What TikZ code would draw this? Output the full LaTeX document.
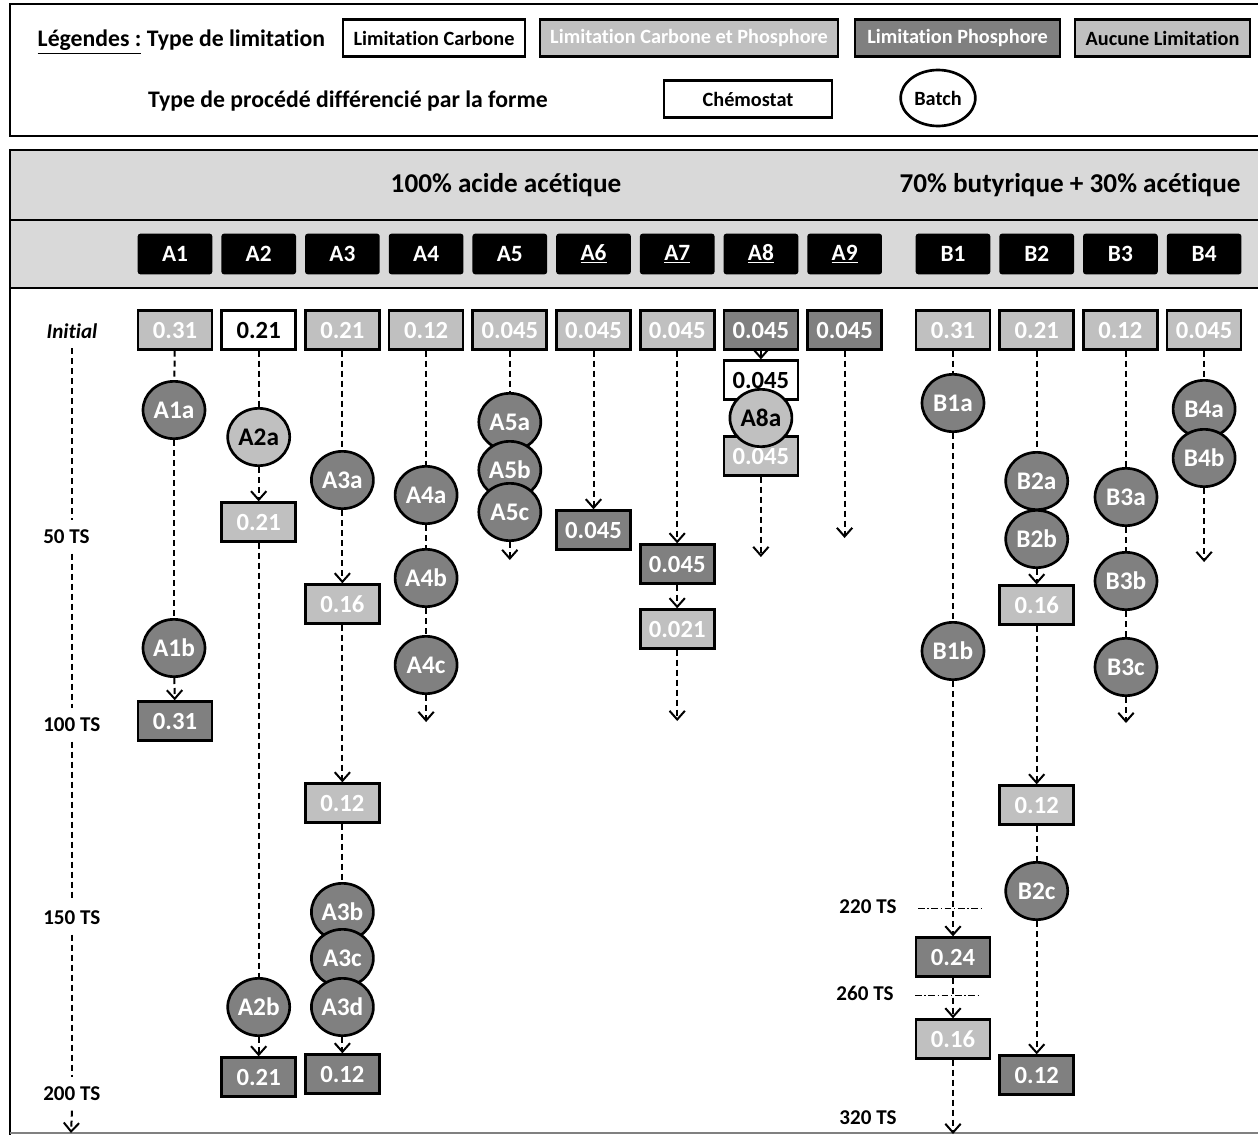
\documentclass[tikz,border=0pt]{standalone}
\usepackage{fontspec}
\setmainfont{Carlito}[Ligatures=NoCommon]
\usetikzlibrary{shapes.geometric}
\usetikzlibrary{positioning}
\usetikzlibrary{arrows.meta}

\begin{document}
\begin{tikzpicture}[x=0.75pt,y=-0.75pt,>={Straight Barb[length=6.5pt,width=11.5pt,line width=1.5pt]},
	node distance=62.78pt,font=\bfseries,
	chemo node/.style={rectangle,draw,line width=2pt,minimum width=55.5pt,minimum height=29pt,inner sep=0pt,font=\bfseries\fontsize{18.5}{20}\selectfont},
	batch node/.style={ellipse,draw,line width=2pt,minimum width=46.5pt,minimum height=43pt,inner sep=0pt,font=\bfseries\fontsize{19}{21}\selectfont},
	leg node/.style={rectangle,draw,line width=2pt,minimum height=28pt,inner sep=1pt,font=\bfseries\fontsize{15.2}{17}\selectfont},
	col node/.style={rectangle,rounded corners=2pt,fill=black,text=white,minimum width=56pt,minimum height=30.5pt,inner sep=0pt,font=\bfseries\fontsize{17.5}{19}\selectfont},
	time node/.style={inner xsep=0pt,inner ysep=7pt,font=\bfseries\fontsize{15.8}{17}\selectfont},
	head node/.style={font=\bfseries\fontsize{20.4}{22}\selectfont},
	cfill/.style={fill=white,text=black},
	cpfill/.style={fill=lgray,text=white},
	pfill/.style={fill=dgray,text=white},
	nfill/.style={fill=lgray,text=black},
	flow/.style={draw,line width=1.5pt,dash pattern=on 4.5pt off 3pt},
	tmark/.style={line width=0.6pt,dash pattern=on 5pt off 2pt on 1pt off 2pt}]
	
	\definecolor{lgray}{RGB}{192,192,192}
	\definecolor{dgray}{RGB}{128,128,128}
	\definecolor{band}{RGB}{217,217,217}
	
	\useasboundingbox (0,0) rectangle (1258,1135);
	
	% frames
	\draw[line width=2.2pt] (10,4) rectangle (1275,136);
	\fill[band] (10,150) rectangle (1275,288);
	\draw[line width=2.2pt] (1275,150) -- (10,150) -- (10,1140);
	\draw[line width=2.2pt] (10,220) -- (1275,220);
	\draw[line width=2.2pt] (10,288) -- (1275,288);
	\draw[gray,line width=0.8pt] (10,1133) -- (1275,1133);
	
	% legend
	\node[anchor=west,font=\bfseries\fontsize{17.8}{19}\selectfont] (leg) at (33,42) {\underline{Légendes :} Type de limitation};
	\node[leg node,cfill,minimum width=136.5pt] (lc) at (434,38) {Limitation Carbone};
	\node[leg node,cpfill,minimum width=223.5pt] (lcp) at (689,38) {Limitation Carbone et Phosphore};
	\node[leg node,pfill,minimum width=153.75pt] (lp) at (957.5,38) {Limitation Phosphore};
	\node[leg node,nfill,minimum width=131.25pt] (ln) at (1162.5,38) {Aucune Limitation};
	\node[font=\bfseries\fontsize{17.8}{19}\selectfont] (proc) at (348,101) {Type de procédé différencié par la forme};
	\node[leg node,cfill,minimum width=126pt] (lchemo) at (748,99) {Chémostat};
	\node[leg node,ellipse,cfill,minimum width=56pt,minimum height=42pt,inner sep=0pt] (lbatch) at (938,98) {Batch};
	
	% headers
	\node[head node] (acet) at (506,185) {100\% acide acétique};
	\node[head node] (buty) at (1070,185) {70\% butyrique + 30\% acétique};
	
	\node[col node] (A1) at (175,254) {A1};
	\node[col node] (A2) [right of=A1] {A2};
	\node[col node] (A3) [right of=A2] {A3};
	\node[col node] (A4) [right of=A3] {A4};
	\node[col node] (A5) [right of=A4] {A5};
	\node[col node] (A6) [right of=A5] {\underline{A6}};
	\node[col node] (A7) [right of=A6] {\underline{A7}};
	\node[col node] (A8) [right of=A7] {\underline{A8}};
	\node[col node] (A9) [right of=A8] {\underline{A9}};
	\node[col node] (B1) at (953,254) {B1};
	\node[col node] (B2) [right of=B1] {B2};
	\node[col node] (B3) [right of=B2] {B3};
	\node[col node] (B4) [right of=B3] {B4};
	
	% time axis
	\node[time node,font=\bfseries\itshape\fontsize{15.8}{17}\selectfont] (ti) at (72,331) {Initial};
	\node[time node,anchor=west] (t50) at (43,537) {50 TS};
	\node[time node,anchor=west] (t100) at (43,725) {100 TS};
	\node[time node,anchor=west] (t150) at (43,918) {150 TS};
	\node[time node,anchor=west] (t200) at (43,1094) {200 TS};
	\coordinate (tend) at (71,1133);
	\node[time node] (t220) at (868,907) {220 TS};
	\node[time node] (t260) at (865,993) {260 TS};
	\node[time node] (t320) at (868,1118) {320 TS};
	\coordinate (m220a) at (918,908);
	\coordinate (m220b) at (983,908);
	\coordinate (m260a) at (915,995);
	\coordinate (m260b) at (980,995);
	
	% A1
	\node[chemo node,cpfill] (a1i) at (175,330) {0.31};
	\node[batch node,pfill] (a1a) at (174,410) {A1a};
	\node[batch node,pfill] (a1b) at (174,648) {A1b};
	\node[chemo node,pfill] (a1f) at (175,721) {0.31};
	% A2
	\node[chemo node,cfill] (a2i) at (258.7,330) {0.21};
	\node[batch node,nfill] (a2a) at (258.7,437) {A2a};
	\node[chemo node,cpfill] (a2v) at (258.7,522) {0.21};
	\node[batch node,pfill] (a2b) at (258.7,1007) {A2b};
	\node[chemo node,pfill] (a2f) at (258.7,1077) {0.21};
	% A3
	\node[chemo node,cpfill] (a3i) at (342.4,330) {0.21};
	\node[batch node,pfill] (a3a) at (342.4,480) {A3a};
	\node[chemo node,cpfill] (a3v) at (342.4,604) {0.16};
	\node[chemo node,cpfill] (a3w) at (342.4,803) {0.12};
	\node[batch node,pfill] (a3b) at (342.4,912) {A3b};
	\node[batch node,pfill] (a3c) at (342.4,958) {A3c};
	\node[batch node,pfill] (a3d) at (342.4,1007) {A3d};
	\node[chemo node,pfill] (a3f) at (342.4,1074) {0.12};
	% A4
	\node[chemo node,cpfill] (a4i) at (426.1,330) {0.12};
	\node[batch node,pfill] (a4a) at (426.1,495) {A4a};
	\node[batch node,pfill] (a4b) at (426.1,578) {A4b};
	\node[batch node,pfill] (a4c) at (426.1,665) {A4c};
	\coordinate (a4e) at (426.1,722);
	% A5
	\node[chemo node,cpfill] (a5i) at (509.8,330) {0.045};
	\node[batch node,pfill] (a5a) at (509.8,422) {A5a};
	\node[batch node,pfill] (a5b) at (509.8,470) {A5b};
	\node[batch node,pfill] (a5c) at (509.8,512) {A5c};
	\coordinate (a5e) at (509.8,560);
	% A6
	\node[chemo node,cpfill] (a6i) at (593.5,330) {0.045};
	\node[chemo node,pfill] (a6f) at (593.5,530) {0.045};
	% A7
	\node[chemo node,cpfill] (a7i) at (677.2,330) {0.045};
	\node[chemo node,pfill] (a7v) at (677.2,564) {0.045};
	\node[chemo node,cpfill] (a7f) at (677.2,629) {0.021};
	\coordinate (a7e) at (677.2,721);
	% A8
	\node[chemo node,pfill] (a8i) at (760.9,330) {0.045};
	\node[chemo node,cfill] (a8v) at (760.9,380) {0.045};
	\node[chemo node,cpfill] (a8w) at (760.9,456) {0.045};
	\node[batch node,nfill] (a8a) at (760.9,418) {A8a};
	\coordinate (a8e) at (760.9,557);
	% A9
	\node[chemo node,pfill] (a9i) at (844.6,330) {0.045};
	\coordinate (a9e) at (844.6,538);
	% B1
	\node[chemo node,cpfill] (b1i) at (953,330) {0.31};
	\node[batch node,pfill] (b1a) at (953,403) {B1a};
	\node[batch node,pfill] (b1b) at (953,651) {B1b};
	\node[chemo node,pfill] (b1v) at (953,957) {0.24};
	\node[chemo node,cpfill] (b1w) at (953,1039) {0.16};
	\coordinate (b1e) at (953,1134);
	% B2
	\node[chemo node,cpfill] (b2i) at (1036.7,330) {0.21};
	\node[batch node,pfill] (b2a) at (1036.7,481) {B2a};
	\node[batch node,pfill] (b2b) at (1036.7,539) {B2b};
	\node[chemo node,cpfill] (b2v) at (1036.7,605) {0.16};
	\node[chemo node,cpfill] (b2w) at (1036.7,805) {0.12};
	\node[batch node,pfill] (b2c) at (1036.7,891) {B2c};
	\node[chemo node,pfill] (b2f) at (1036.7,1075) {0.12};
	% B3
	\node[chemo node,cpfill] (b3i) at (1120.4,330) {0.12};
	\node[batch node,pfill] (b3a) at (1126,497) {B3a};
	\node[batch node,pfill] (b3b) at (1126,581) {B3b};
	\node[batch node,pfill] (b3c) at (1126,667) {B3c};
	\coordinate (b3e) at (1126,723);
	% B4
	\node[chemo node,cpfill] (b4i) at (1204.1,330) {0.045};
	\node[batch node,pfill] (b4a) at (1204.1,409) {B4a};
	\node[batch node,pfill] (b4b) at (1204.1,458) {B4b};
	\coordinate (b4e) at (1204.1,562);
	
	\draw[tmark] (m220a) -- (m220b);
	\draw[tmark] (m260a) -- (m260b);
	
	\path[every edge/.style={flow}]
	(ti.south) edge (ti.south |- t50.north)
	(ti.south |- t50.south) edge (ti.south |- t100.north)
	(ti.south |- t100.south) edge (ti.south |- t150.north)
	(ti.south |- t150.south) edge (ti.south |- t200.north)
	(ti.south |- t200.south) edge[->] (tend)
	(a1i) edge (a1a)
	(a1a) edge (a1b)
	(a1b) edge[->] (a1f)
	(a2i) edge (a2a)
	(a2a) edge[->] (a2v)
	(a2v) edge (a2b)
	(a2b) edge[->] (a2f)
	(a3i) edge (a3a)
	(a3a) edge[->] (a3v)
	(a3v) edge[->] (a3w)
	(a3w) edge (a3b)
	(a3d) edge[->] (a3f)
	(a4i) edge (a4a)
	(a4a) edge (a4b)
	(a4b) edge (a4c)
	(a4c) edge[->] (a4e)
	(a5i) edge (a5a)
	(a5c) edge[->] (a5e)
	(a6i) edge[->] (a6f)
	(a7i) edge[->] (a7v)
	(a7v) edge[->] (a7f)
	(a7f) edge[->] (a7e)
	(a8i) edge[->] (a8v)
	(a8w) edge[->] (a8e)
	(a9i) edge[->] (a9e)
	(b1i) edge (b1a)
	(b1a) edge (b1b)
	(b1b) edge[->] (b1v)
	(b1v) edge[->] (b1w)
	(b1w) edge[->] (b1e)
	(b2i) edge (b2a)
	(b2b) edge[->] (b2v)
	(b2v) edge[->] (b2w)
	(b2w) edge (b2c)
	(b2c) edge[->] (b2f)
	(b3a |- b3i.south) edge (b3a)
	(b3a) edge (b3b)
	(b3b) edge (b3c)
	(b3c) edge[->] (b3e)
	(b4i) edge (b4a)
	(b4b) edge[->] (b4e);
\end{tikzpicture}
\end{document}
